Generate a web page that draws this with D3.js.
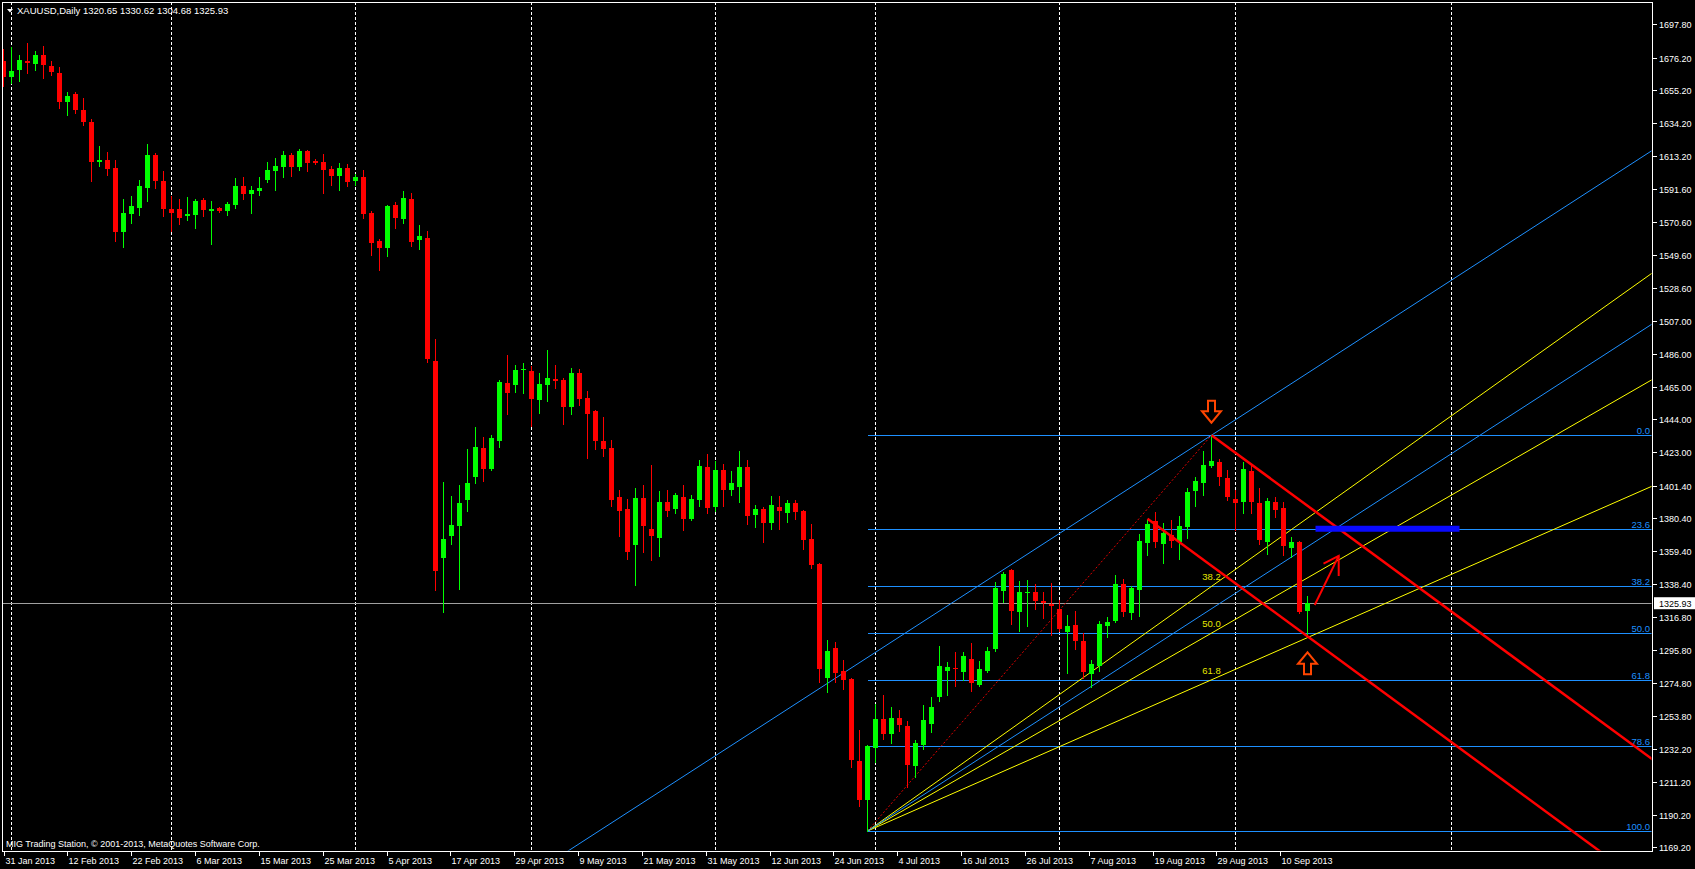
<!DOCTYPE html>
<html><head><meta charset="utf-8">
<script src="https://cdn.jsdelivr.net/npm/d3@7"></script>
<style>
html,body{margin:0;padding:0;background:#000;overflow:hidden}
svg{display:block}
text{font-family:"Liberation Sans",Arial,sans-serif;}
</style></head><body>
<svg id="c" width="1695" height="869"></svg>
<script>
// ---------------- data ----------------
const headerText = "XAUUSD,Daily  1320.65 1330.62 1304.68 1325.93";
const copyrightText = "MIG Trading Station, \u00A9 2001-2013, MetaQuotes Software Corp.";
const open = [1674.0,1664.0,1668.3,1674.0,1672.1,1677.9,1670.8,1666.3,1647.9,1652.9,
1642.6,1634.9,1609.2,1610.5,1605.3,1564.3,1575.8,1579.7,1592.5,1613.7,
1597.0,1579.0,1579.0,1574.5,1575.2,1584.8,1577.7,1579.7,1577.7,1581.6,
1593.8,1588.7,1590.6,1597.6,1603.4,1606.0,1613.7,1606.0,1616.3,1609.8,
1609.2,1604.7,1600.2,1605.3,1597.0,1599.6,1576.5,1558.5,1554.0,1581.6,
1572.6,1585.4,1559.1,1560.4,1481.4,1355.2,1369.3,1375.7,1392.4,1407.2,
1425.6,1412.3,1430.3,1467.3,1466.2,1475.9,1475.0,1456.6,1466.2,1469.9,
1469.2,1452.1,1473.7,1457.7,1449.3,1430.1,1425.6,1394.1,1386.4,1363.5,
1393.5,1373.6,1368.0,1390.9,1386.6,1394.1,1380.2,1392.4,1413.6,1387.9,
1411.7,1398.8,1400.7,1413.6,1382.8,1386.4,1377.6,1387.7,1384.0,1390.3,
1385.3,1367.4,1351.1,1278.1,1297.0,1282.4,1277.3,1224.6,1199.8,1233.2,
1251.6,1242.2,1252.2,1247.1,1221.6,1235.1,1248.6,1265.9,1282.6,1284.3,
1282.0,1290.1,1273.4,1282.2,1296.7,1334.0,1347.3,1320.5,1332.3,1333.3,
1327.2,1325.6,1322.4,1307.6,1311.9,1301.7,1280.7,1285.6,1311.5,1314.7,
1338.3,1319.8,1334.6,1364.8,1378.7,1364.1,1369.9,1365.4,1374.9,1398.2,
1403.3,1414.0,1416.4,1406.3,1392.8,1391.1,1410.8,1390.3,1365.4,1390.9,
1387.1,1361.6,1365.2,1320.65];
const high = [1681.6,1683.2,1677.9,1685.6,1680.5,1683.7,1673.8,1670.2,1654.1,1654.1,
1650.3,1636.8,1619.5,1615.6,1610.5,1585.4,1587.4,1597.6,1620.8,1615.0,
1603.4,1587.4,1585.4,1586.7,1585.4,1586.1,1584.2,1580.2,1583.5,1598.9,
1599.6,1593.8,1599.6,1609.2,1611.8,1616.3,1615.0,1617.5,1616.9,1611.1,
1614.3,1606.6,1608.5,1607.9,1601.5,1604.1,1577.7,1559.8,1581.6,1583.5,
1590.6,1589.3,1568.8,1564.9,1495.6,1403.8,1394.8,1401.8,1424.9,1439.1,
1432.6,1433.9,1469.2,1485.3,1478.9,1480.2,1478.2,1473.7,1488.5,1478.9,
1470.5,1476.9,1476.3,1462.2,1449.8,1445.5,1430.7,1398.6,1392.8,1399.9,
1401.8,1414.7,1397.9,1398.6,1396.7,1401.8,1395.4,1417.9,1421.7,1417.2,
1415.5,1411.0,1423.6,1418.1,1389.0,1387.9,1394.8,1394.8,1392.2,1392.2,
1386.0,1377.0,1351.6,1302.3,1301.0,1289.5,1278.1,1244.5,1234.6,1261.2,
1267.0,1259.1,1257.2,1250.3,1238.1,1260.6,1265.7,1298.7,1288.4,1294.8,
1294.8,1300.2,1289.0,1298.0,1339.6,1346.0,1347.9,1340.2,1340.8,1338.3,
1333.1,1339.1,1328.0,1318.4,1320.9,1306.6,1289.5,1314.5,1316.9,1343.9,
1341.5,1337.2,1370.4,1379.4,1384.3,1377.4,1379.4,1381.9,1399.9,1406.8,
1423.6,1433.8,1418.5,1411.5,1398.6,1416.8,1414.7,1399.9,1393.5,1394.1,
1390.9,1368.4,1365.7,1330.62];
const low = [1658.2,1660.1,1661.4,1666.5,1668.3,1663.3,1665.1,1643.9,1639.4,1640.8,
1633.0,1597.2,1606.6,1600.9,1558.5,1554.6,1570.0,1575.2,1584.2,1592.5,
1574.5,1564.9,1569.4,1571.9,1566.8,1574.5,1556.6,1577.1,1575.2,1579.7,
1585.4,1576.5,1588.0,1596.4,1591.2,1599.6,1600.2,1604.1,1603.4,1607.9,
1589.3,1594.4,1591.2,1593.8,1594.4,1573.2,1549.5,1539.9,1548.8,1566.8,
1570.0,1555.3,1553.4,1480.8,1334.4,1320.5,1364.1,1335.3,1385.3,1403.3,
1404.6,1411.7,1426.4,1447.6,1461.7,1461.1,1439.9,1448.2,1455.9,1464.3,
1441.2,1447.6,1453.4,1419.4,1425.1,1420.6,1388.5,1369.3,1354.5,1337.8,
1359.0,1353.9,1356.4,1382.1,1384.0,1373.1,1379.6,1388.5,1384.0,1385.3,
1388.5,1395.6,1391.1,1377.0,1375.1,1365.4,1373.8,1373.8,1378.2,1380.2,
1360.9,1348.7,1275.5,1269.1,1275.5,1271.1,1221.0,1195.7,1179.7,1224.0,
1238.8,1236.4,1244.1,1207.8,1214.4,1232.5,1243.4,1263.3,1267.0,1273.0,
1276.8,1269.8,1272.8,1281.6,1295.1,1326.7,1312.8,1308.3,1311.5,1322.4,
1316.6,1305.7,1308.3,1281.3,1296.7,1278.1,1272.3,1282.6,1304.4,1313.9,
1317.9,1315.6,1317.9,1357.1,1362.2,1351.9,1362.2,1354.5,1367.8,1388.5,
1395.4,1413.2,1401.8,1392.2,1372.9,1384.0,1384.0,1364.1,1357.7,1381.5,
1357.1,1355.8,1319.5,1304.68];
const close = [1664.0,1667.6,1674.7,1672.6,1677.9,1671.5,1667.0,1647.9,1651.6,1642.6,
1634.9,1609.4,1610.5,1604.7,1564.3,1576.5,1581.0,1593.8,1613.7,1597.0,
1579.0,1576.5,1573.2,1575.8,1584.2,1578.4,1579.0,1577.7,1582.2,1593.8,
1588.7,1591.2,1592.5,1604.1,1606.6,1613.7,1606.0,1616.3,1608.5,1608.5,
1604.1,1600.2,1605.3,1596.4,1599.6,1575.8,1557.2,1554.0,1581.0,1573.2,
1586.1,1557.8,1561.7,1482.7,1346.6,1367.2,1376.2,1390.3,1403.1,1426.2,
1412.3,1432.0,1468.0,1461.1,1475.7,1476.3,1457.0,1466.7,1470.5,1468.8,
1451.9,1473.7,1457.2,1447.6,1430.3,1425.1,1392.4,1385.3,1359.0,1393.5,
1375.7,1369.3,1390.9,1385.3,1395.4,1380.2,1392.8,1414.2,1387.3,1411.7,
1398.8,1403.3,1413.6,1382.1,1386.4,1377.6,1389.0,1385.3,1390.3,1384.7,
1366.7,1350.6,1283.9,1295.3,1281.3,1276.8,1225.5,1199.8,1234.3,1251.6,
1242.2,1252.2,1247.9,1222.3,1236.2,1251.0,1259.1,1285.6,1285.0,1283.9,
1291.9,1274.7,1283.9,1295.3,1335.7,1344.7,1321.1,1333.3,1333.3,1327.6,
1325.9,1324.3,1309.4,1311.3,1301.9,1281.8,1286.9,1312.6,1313.7,1338.3,
1320.5,1335.7,1365.9,1377.0,1365.2,1371.2,1366.1,1375.5,1397.3,1404.4,
1414.7,1417.4,1407.2,1394.4,1390.1,1412.1,1391.1,1366.7,1391.6,1386.0,
1362.9,1365.2,1320.6,1325.93];

const xTickBars = [0,8,16,24,32,40,48,56,64,72,80,88,96,104,112,120,128,136,144,152,160];
const xTickLabels = ["31 Jan 2013","12 Feb 2013","22 Feb 2013","6 Mar 2013","15 Mar 2013","25 Mar 2013",
"5 Apr 2013","17 Apr 2013","29 Apr 2013","9 May 2013","21 May 2013","31 May 2013","12 Jun 2013",
"24 Jun 2013","4 Jul 2013","16 Jul 2013","26 Jul 2013","7 Aug 2013","19 Aug 2013","29 Aug 2013","10 Sep 2013"];
const monthStartBars = [1,21,44,66,89,109,132,154,181];
const yTickLabels = ["1697.80","1676.20","1655.20","1634.20","1613.20","1591.60","1570.60","1549.60",
"1528.60","1507.00","1486.00","1465.00","1444.00","1423.00","1401.40","1380.40","1359.40","1338.40",
"1316.80","1295.80","1274.80","1253.80","1232.20","1211.20","1190.20","1169.20"];
const bidPrice = 1325.93;

const fibLow = [108, 1179.7];
const fibHigh = [151, 1433.8];
const fibLevels = [0.0, 23.6, 38.2, 50.0, 61.8, 78.6, 100.0];
const fanLevels = [38.2, 50.0, 61.8];
const blueChannelBase = [[108, 1179.7], [151, 1322.4]];
const blueChannelParallelPoint = [151, 1433.8];
const redChannelBase = [[151, 1433.8], [163, 1388.5]];
const redChannelLower = [[143, 1380.2], [163, 1304.68]];
const thickBlueSegment = [[164, 1373.8], [182, 1373.8]];
const redArrowShaft = [[163.9, 1324.8], [166.9, 1356.3]];
const redArrowHead = [[165.0, 1351.4], [166.9, 1356.3], [166.9, 1343.4]];
const downArrowTip = [151, 1441.8];
const upArrowTip = [163, 1294.4];

// ---------------- layout ----------------
const W = 1695, H = 869;
const plot = {l: 2, r: 1652, t: 2, b: 851};
const x = d3.scaleLinear().domain([0, 206]).range([3.5, 3.5 + 8 * 206]);
const y = d3.scaleLinear().domain([1166.858, 1711.916]).range([plot.b, plot.t]);

const svg = d3.select("#c");
svg.append("rect").attr("width", W).attr("height", H).attr("fill", "#000");
const defs = svg.append("defs");
defs.append("clipPath").attr("id", "clip").append("rect")
  .attr("x", plot.l + 0.5).attr("y", plot.t + 0.5)
  .attr("width", plot.r - plot.l - 1).attr("height", plot.b - plot.t - 1);
const g = svg.append("g").attr("clip-path", "url(#clip)");

// month grid
g.selectAll("line.grid").data(monthStartBars).join("line")
  .attr("x1", d => x(d)).attr("x2", d => x(d))
  .attr("y1", plot.t).attr("y2", plot.b)
  .attr("stroke", "#fff").attr("stroke-width", 1).attr("stroke-dasharray", "3,2")
  .attr("shape-rendering", "crispEdges");

// bid line
g.append("line").attr("x1", plot.l).attr("x2", plot.r)
  .attr("y1", Math.round(y(bidPrice)) + 0.5).attr("y2", Math.round(y(bidPrice)) + 0.5)
  .attr("stroke", "#a0a0a0").attr("stroke-width", 1).attr("shape-rendering", "crispEdges");

// helper: extend line through two data points to an x-range
function px(p) { return [x(p[0]), y(p[1])]; }
function lineThrough(a, b, x0, x1) {
  const [ax, ay] = px(a), [bx, by] = px(b);
  const s = (by - ay) / (bx - ax);
  return [[x0, ay + s * (x0 - ax)], [x1, ay + s * (x1 - ax)]];
}
function drawSeg(seg, color, width, dash) {
  const l = g.append("line")
    .attr("x1", seg[0][0]).attr("y1", seg[0][1])
    .attr("x2", seg[1][0]).attr("y2", seg[1][1])
    .attr("stroke", color).attr("stroke-width", width);
  if (dash) l.attr("stroke-dasharray", dash);
  return l;
}

// Fibonacci retracement levels
const fibRange = fibHigh[1] - fibLow[1];
const fibPrice = lv => fibHigh[1] - fibRange * lv / 100;
g.selectAll("line.fib").data(fibLevels).join("line")
  .attr("x1", x(fibLow[0])).attr("x2", plot.r)
  .attr("y1", d => Math.round(y(fibPrice(d))) + 0.5).attr("y2", d => Math.round(y(fibPrice(d))) + 0.5)
  .attr("stroke", "#1e90ff").attr("stroke-width", 1).attr("shape-rendering", "crispEdges");
g.selectAll("text.fib").data(fibLevels).join("text")
  .attr("x", 1650).attr("y", d => Math.round(y(fibPrice(d))) - 1.5)
  .attr("text-anchor", "end").attr("fill", "#1e90ff").attr("font-size", 9.5)
  .text(d => d.toFixed(1));

// Fib trendline (dotted red)
drawSeg([px(fibLow), px(fibHigh)], "#e00000", 1, "2,2");

// Fibonacci fan (yellow)
fanLevels.forEach(lv => {
  const p2 = [fibHigh[0], fibPrice(lv)];
  drawSeg(lineThrough(fibLow, p2, x(fibLow[0]), plot.r + 5), "#ffff00", 1);
  g.append("text").attr("x", x(fibHigh[0])).attr("y", y(fibPrice(lv)) - 6)
    .attr("text-anchor", "middle").attr("fill", "#e6e600").attr("font-size", 9.5)
    .text(lv.toFixed(1));
});

// blue equidistant channel
drawSeg(lineThrough(blueChannelBase[0], blueChannelBase[1], x(blueChannelBase[0][0]), plot.r + 5), "#1e90ff", 1);
{
  const [ax, ay] = px(blueChannelBase[0]), [bx, by] = px(blueChannelBase[1]);
  const s = (by - ay) / (bx - ax);
  const [cx, cy] = px(blueChannelParallelPoint);
  drawSeg([[plot.l, cy + s * (plot.l - cx)], [plot.r + 5, cy + s * (plot.r + 5 - cx)]], "#1e90ff", 1);
}

// candles
const idx = d3.range(open.length);
const up = i => close[i] >= open[i];
const col = i => up(i) ? "#00ff00" : "#ff0000";
g.selectAll("line.wick").data(idx).join("line")
  .attr("x1", i => x(i)).attr("x2", i => x(i))
  .attr("y1", i => Math.round(y(high[i]))).attr("y2", i => Math.round(y(low[i])) + 1)
  .attr("stroke", col).attr("stroke-width", 1).attr("shape-rendering", "crispEdges");
g.selectAll("rect.body").data(idx).join("rect")
  .attr("x", i => x(i) - 2.5).attr("width", 5)
  .attr("y", i => Math.round(y(Math.max(open[i], close[i]))))
  .attr("height", i => Math.max(1, Math.round(y(Math.min(open[i], close[i]))) - Math.round(y(Math.max(open[i], close[i])))))
  .attr("fill", col).attr("shape-rendering", "crispEdges");

// red channel
drawSeg(lineThrough(redChannelBase[0], redChannelBase[1], x(redChannelBase[0][0]), plot.r + 5), "#ff0000", 2.5);
drawSeg(lineThrough(redChannelLower[0], redChannelLower[1], x(redChannelLower[0][0]), plot.r + 5), "#ff0000", 2.5);

// thick blue segment
g.append("line").attr("x1", x(thickBlueSegment[0][0])).attr("x2", x(thickBlueSegment[1][0]))
  .attr("y1", y(thickBlueSegment[0][1])).attr("y2", y(thickBlueSegment[1][1]))
  .attr("stroke", "#0a0aff").attr("stroke-width", 6);

// red hand-drawn arrow
drawSeg([px(redArrowShaft[0]), px(redArrowShaft[1])], "#ff0000", 2);
g.append("path").attr("d", d3.line()(redArrowHead.map(px)))
  .attr("fill", "none").attr("stroke", "#ff0000").attr("stroke-width", 2);

// orange hollow arrows
const arrowShape = [[0,0],[-9.5,-11.5],[-3.5,-11.5],[-3.5,-22],[3.5,-22],[3.5,-11.5],[9.5,-11.5]];
function hollowArrow(tip, dir) {
  const [tx, ty] = px(tip);
  const pts = arrowShape.map(p => [tx + p[0], ty + dir * p[1]]);
  g.append("path").attr("d", d3.line()(pts) + "Z")
    .attr("fill", "#000").attr("stroke", "#ff4500").attr("stroke-width", 2)
    .attr("stroke-linejoin", "miter");
}
hollowArrow(downArrowTip, 1);
hollowArrow(upArrowTip, -1);

// frame
svg.append("rect").attr("x", plot.l + 0.5).attr("y", plot.t + 0.5)
  .attr("width", plot.r - plot.l).attr("height", plot.b - plot.t)
  .attr("fill", "none").attr("stroke", "#fff").attr("stroke-width", 1)
  .attr("shape-rendering", "crispEdges");

// right axis
const ya = svg.append("g");
yTickLabels.forEach(t => {
  const v = +t, yy = Math.round(y(v)) + 0.5;
  ya.append("line").attr("x1", plot.r + 1).attr("x2", plot.r + 5).attr("y1", yy).attr("y2", yy)
    .attr("stroke", "#fff").attr("shape-rendering", "crispEdges");
  ya.append("text").attr("x", plot.r + 7).attr("y", yy + 3.3)
    .attr("fill", "#fff").attr("font-size", 9).text(t);
});
// bid label
{
  const yy = y(bidPrice);
  ya.append("rect").attr("x", plot.r + 2).attr("y", yy - 6).attr("width", W - plot.r - 2).attr("height", 12)
    .attr("fill", "#fff");
  ya.append("text").attr("x", plot.r + 7).attr("y", yy + 3.5)
    .attr("fill", "#000").attr("font-size", 9).text(bidPrice.toFixed(2));
}

// bottom axis
const xa = svg.append("g");
xTickBars.forEach((b, k) => {
  const xx = Math.round(x(b) - 0.02 * b) + 0.5;
  xa.append("line").attr("x1", xx).attr("x2", xx).attr("y1", plot.b + 1).attr("y2", plot.b + 5)
    .attr("stroke", "#fff").attr("shape-rendering", "crispEdges");
  xa.append("text").attr("x", xx + 1).attr("y", 864)
    .attr("fill", "#fff").attr("font-size", 9).text(xTickLabels[k]);
});

// header & copyright
svg.append("path").attr("d", "M7,9 L13,9 L10,12.5 Z").attr("fill", "#fff");
svg.append("text").attr("x", 17).attr("y", 14).attr("fill", "#fff").attr("font-size", 9.5).text(headerText);
svg.append("text").attr("x", 6).attr("y", 846.5).attr("fill", "#fff").attr("font-size", 9).text(copyrightText);
</script>
</body></html>
